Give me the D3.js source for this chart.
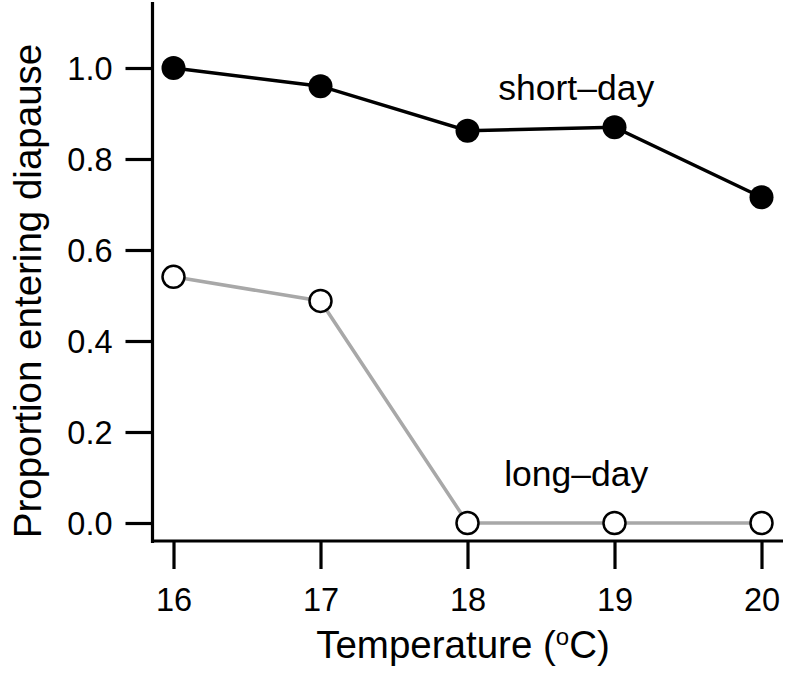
<!DOCTYPE html>
<html>
<head>
<meta charset="utf-8">
<script src="https://cdn.jsdelivr.net/npm/d3@7"></script>
<style>
  html, body { margin: 0; padding: 0; background: #fff; }
  svg { display: block; }
  text { font-family: "Liberation Sans", Arial, Helvetica, sans-serif; fill: #000; }
</style>
</head>
<body>
<svg id="chart" width="790" height="679"></svg>
<script>
const temperatures = [16, 17, 18, 19, 20];
const shortDay = [1.0, 0.960, 0.862, 0.870, 0.716];
const longDay = [0.541, 0.488, 0.0, 0.0, 0.0];
const yTicks = [0.0, 0.2, 0.4, 0.6, 0.8, 1.0];
const xTicks = [16, 17, 18, 19, 20];
const xTitleParts = ["Temperature (", "o", "C)"];
const yTitle = "Proportion entering diapause";
const shortLabel = "short–day";
const longLabel = "long–day";

const svg = d3.select("#chart");
const x = d3.scaleLinear().domain([16, 20]).range([173.5, 761.5]);
const y = d3.scaleLinear().domain([0, 1]).range([523, 68]);

const axisX = 152.5, axisY = 541;

// Y axis
const yAxis = d3.axisLeft(y).tickValues(yTicks).tickFormat(d3.format(".1f"))
  .tickSize(27).tickPadding(13);
const gy = svg.append("g").attr("transform", `translate(${axisX},0)`).call(yAxis);
gy.select(".domain").remove();
gy.selectAll(".tick line").attr("stroke", "#000").attr("stroke-width", 3.2);
gy.selectAll(".tick text").attr("font-size", 32.5).attr("dy", "0.36em");

// X axis
const xAxis = d3.axisBottom(x).tickValues(xTicks).tickFormat(d3.format("d"))
  .tickSize(28).tickPadding(19);
const gx = svg.append("g").attr("transform", `translate(0,${axisY})`).call(xAxis);
gx.select(".domain").remove();
gx.selectAll(".tick line").attr("stroke", "#000").attr("stroke-width", 3.2);
gx.selectAll(".tick text").attr("font-size", 32.5);

// Axis lines (frame)
svg.append("line").attr("x1", axisX).attr("x2", axisX).attr("y1", 2).attr("y2", axisY + 2)
  .attr("stroke", "#000").attr("stroke-width", 3.2);
svg.append("line").attr("x1", axisX - 1.5).attr("x2", 783).attr("y1", axisY).attr("y2", axisY)
  .attr("stroke", "#000").attr("stroke-width", 3.2);

// Lines
const line = d3.line().x(d => x(d[0])).y(d => y(d[1]));
const longData = temperatures.map((t, i) => [t, longDay[i]]);
const shortData = temperatures.map((t, i) => [t, shortDay[i]]);

svg.append("path").datum(longData).attr("d", line)
  .attr("fill", "none").attr("stroke", "#a8a8a8").attr("stroke-width", 3.5);
svg.append("path").datum(shortData).attr("d", line)
  .attr("fill", "none").attr("stroke", "#000").attr("stroke-width", 3.5);

svg.selectAll("circle.long").data(longData).enter().append("circle")
  .attr("class", "long")
  .attr("cx", d => x(d[0])).attr("cy", d => y(d[1])).attr("r", 11)
  .attr("fill", "#fff").attr("stroke", "#000").attr("stroke-width", 2.5);
svg.selectAll("circle.short").data(shortData).enter().append("circle")
  .attr("class", "short")
  .attr("cx", d => x(d[0])).attr("cy", d => y(d[1])).attr("r", 12)
  .attr("fill", "#000");

// Series labels
svg.append("text").attr("x", x(18.74)).attr("y", 100).attr("text-anchor", "middle")
  .attr("font-size", 35.5).text(shortLabel);
svg.append("text").attr("x", x(18.74)).attr("y", 486).attr("text-anchor", "middle")
  .attr("font-size", 35.5).text(longLabel);

// Axis titles
const xt = svg.append("text").attr("x", 463).attr("y", 658).attr("text-anchor", "middle")
  .attr("font-size", 38.5);
xt.append("tspan").text(xTitleParts[0]);
xt.append("tspan").attr("font-size", 24).attr("dy", -13).text(xTitleParts[1]);
xt.append("tspan").attr("dy", 13).text(xTitleParts[2]);
svg.append("text").attr("transform", "translate(41,291) rotate(-90)")
  .attr("text-anchor", "middle").attr("font-size", 38.5).text(yTitle);
</script>
</body>
</html>
